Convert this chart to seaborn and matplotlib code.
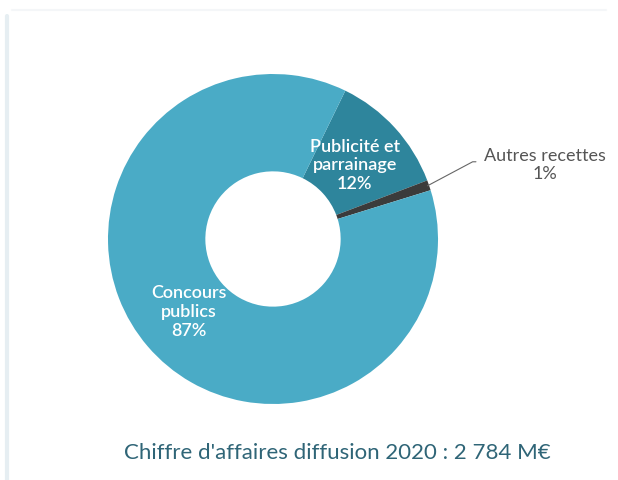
import numpy as np
import seaborn as sns
import matplotlib.pyplot as plt
from matplotlib.lines import Line2D

# Chart data
categories = ["Publicité et\nparrainage", "Autres recettes", "Concours\npublics"]
shares = [12, 1, 87]
colors = ["#2e859c", "#3b3b3b", "#4aabc6"]
title = "Chiffre d'affaires diffusion 2020 : 2 784 M€"

sns.set_theme(style="white")
plt.rcParams["font.family"] = ["Lato", "DejaVu Sans"]

fig = plt.figure(figsize=(6.18, 4.81), dpi=100)
fig.patch.set_facecolor("white")

# faint card edges
fig.add_artist(Line2D([0.012, 0.012], [0.0, 0.965], color="#e6eef2", lw=3, transform=fig.transFigure))
fig.add_artist(Line2D([0.02, 0.98], [0.977, 0.977], color="#f4f6f8", lw=1.5, transform=fig.transFigure))

ax = fig.add_axes([108 / 618, 76 / 481, 330 / 618, 330 / 481])
start = 64
wedges, _ = ax.pie(shares, colors=colors, startangle=start, counterclock=False,
                   radius=1, wedgeprops=dict(width=0.59, edgecolor="none"))
ax.set_xlim(-1, 1)
ax.set_ylim(-1, 1)
ax.set_aspect("equal")
ax.axis("off")

# labels placed at wedge mid-angles
for w, name, val in zip(wedges, categories, shares):
    mid = np.deg2rad((w.theta1 + w.theta2) / 2)
    if val < 5:
        x0, y0 = np.cos(mid) * 0.99, np.sin(mid) * 0.99
        ax.plot([x0, 1.21, 1.23], [y0, 0.468, 0.468], color="#666666", lw=0.8, clip_on=False)
        ax.text(1.65, 0.455, f"{name}\n{val}%", ha="center", va="center", color="#555555",
                fontsize=13, linespacing=1.2, clip_on=False)
    else:
        r = 0.67
        ax.text(np.cos(mid) * r, np.sin(mid) * r, f"{name}\n{val}%", ha="center", va="center",
                color="white", fontsize=13, fontweight="semibold", linespacing=1.2)

fig.text(337 / 618, 1 - 453 / 481, title, ha="center", va="center", fontsize=16, color="#2f6577")

plt.savefig("out.png", dpi=100)
